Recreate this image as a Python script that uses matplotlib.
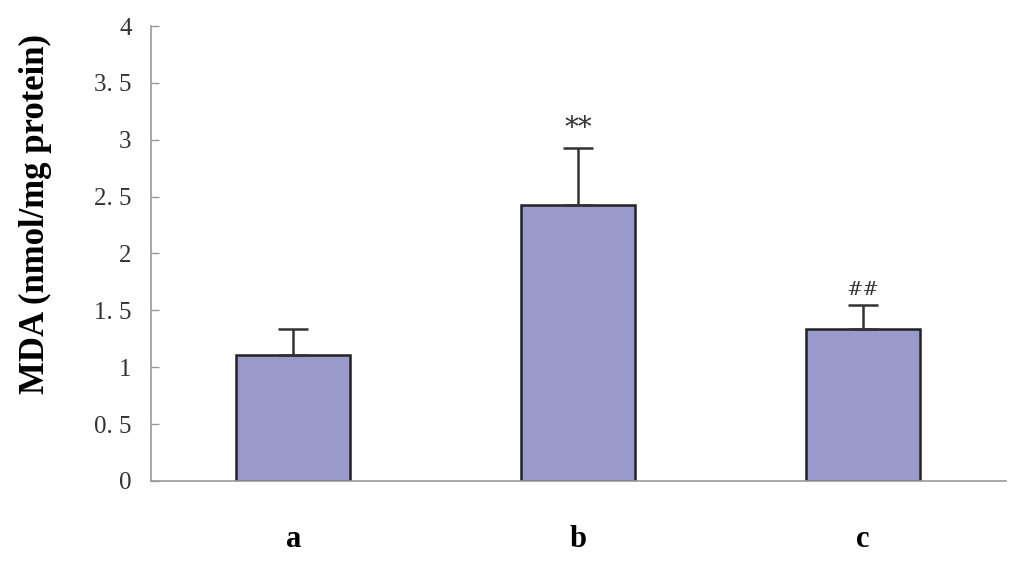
import matplotlib
matplotlib.use("Agg")
import matplotlib.pyplot as plt

# ---------------------------------------------------------------------------
# Data
# ---------------------------------------------------------------------------
groups = ["a", "b", "c"]
mda_mean = [1.11, 2.43, 1.34]
mda_sd = [0.23, 0.50, 0.21]
marks = ["", "**", "##"]
mark_size = [0, 20, 14]

BAR_COLOR = "#9999cc"
AXIS_GRAY = "#999999"

fig = plt.figure(figsize=(10.24, 5.69), dpi=100)
ax = fig.add_axes([0.1475, 0.1547, 0.8345, 0.7996])

x = list(range(len(groups)))
ax.bar(x, mda_mean, width=0.40, color=BAR_COLOR, edgecolor="#222222",
       linewidth=1.8, zorder=2)
ax.errorbar(x, mda_mean, yerr=[[0] * len(mda_sd), mda_sd], fmt="none",
            ecolor="#333333", elinewidth=1.8, capsize=11, capthick=1.8,
            zorder=3)

for xi, m, s, lab, fs in zip(x, mda_mean, mda_sd, marks, mark_size):
    if lab:
        ax.text(xi, m + s + 0.05, lab, ha="center", va="bottom",
                fontsize=fs, family="DejaVu Serif", color="#333333")

ax.set_xlim(-0.5, 2.5)
ax.set_ylim(0, 4)
ax.set_yticks([0, 0.5, 1, 1.5, 2, 2.5, 3, 3.5, 4])
ax.set_yticklabels(["0", "0. 5", "1", "1. 5", "2", "2. 5", "3", "3. 5", "4"],
                   family="Liberation Serif", fontsize=18, color="#333333")
ax.set_xticks(x)
ax.set_xticklabels(groups, family="Liberation Serif", fontsize=22,
                   fontweight="bold")
ax.tick_params(axis="x", length=0, pad=32)
ax.tick_params(axis="y", direction="in", length=6, color=AXIS_GRAY,
               width=1, pad=14)

for side in ["top", "right"]:
    ax.spines[side].set_visible(False)
for side in ["left", "bottom"]:
    ax.spines[side].set_color(AXIS_GRAY)
    ax.spines[side].set_linewidth(1.2)

fig.text(0.035, 0.624, "MDA (nmol/mg protein)", family="Liberation Serif",
         fontsize=25, fontweight="bold", rotation=90, ha="center",
         va="center")

fig.savefig("out.png", dpi=100)
